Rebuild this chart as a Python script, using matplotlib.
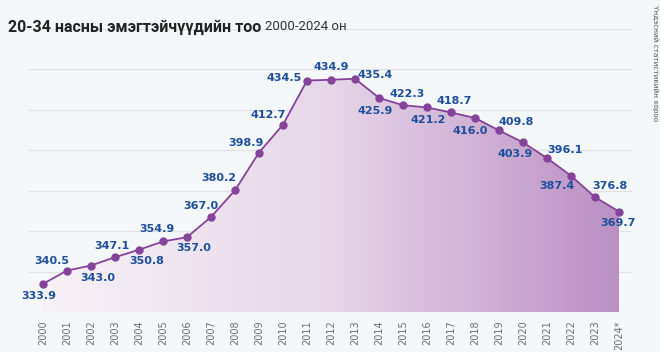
import numpy as np
import matplotlib
matplotlib.use("Agg")
import matplotlib.pyplot as plt
from matplotlib.colors import LinearSegmentedColormap

# data
years = list(range(2000, 2025))
year_labels = [str(y) for y in years[:-1]] + ["2024*"]
values = [333.9, 340.5, 343.0, 347.1, 350.8, 354.9, 357.0, 367.0, 380.2, 398.9,
          412.7, 434.5, 434.9, 435.4, 425.9, 422.3, 421.2, 418.7, 416.0, 409.8,
          403.9, 396.1, 387.4, 376.8, 369.7]

# label offsets in pixels (dx, dy), dy positive = up
offsets = [(-4, -12), (-15, 10), (7, -12), (-3, 11), (8, -11), (-6, 12), (7, -11),
           (-10, 11), (-16, 12), (-13, 10), (-15, 10), (-23, 3), (0, 13), (20, 4),
           (-4, -13), (4, 11), (1, -13), (3, 11), (-5, -13), (17, 8), (-8, -12),
           (18, 8), (-14, -10), (15, 11), (-1, -11)]

BG = "#f5f8fa"
LINE = "#85439a"
LABEL = "#1d4f9c"

plt.rcParams["font.family"] = ["DejaVu Sans"]

fig = plt.figure(figsize=(6.6, 3.52), dpi=100, facecolor=BG)
ax = fig.add_axes([28 / 660, 1 - 312 / 352, 604 / 660, 283 / 352])
ax.set_facecolor(BG)

ax.set_xlim(1999.375, 2024.54)
ax.set_ylim(320, 460)

for v in range(320, 461, 20):
    ax.axhline(v, color="#e2e2e6", lw=1.0, zorder=0)

# gradient fill under the line
poly = ax.fill_between(years, values, 320, color="none", lw=0)
cmap = LinearSegmentedColormap.from_list("g", ["#f7f2f7", "#e6d6e8", "#bb8fc4"])
grad = np.linspace(0, 1, 256).reshape(1, -1)
im = ax.imshow(grad, cmap=cmap, aspect="auto",
               extent=[years[0], years[-1], 320, 460], zorder=1)
im.set_clip_path(poly.get_paths()[0], transform=ax.transData)

ax.plot(years, values, color=LINE, lw=1.3, marker="o", markersize=5,
        zorder=3)

for x, v, (dx, dy) in zip(years, values, offsets):
    ax.annotate(f"{v:.1f}", (x, v), xytext=(dx * 0.72, dy * 0.72),
                textcoords="offset points", ha="center", va="center",
                color=LABEL, fontsize=8, fontweight="bold", zorder=4)

for s in ax.spines.values():
    s.set_visible(False)
ax.set_yticks([])
ax.set_xticks(years)
ax.set_xticklabels(year_labels, rotation=90, fontsize=7, color="#6e6e6e")
ax.tick_params(axis="x", length=0, pad=6)

title = fig.text(8 / 660, 1 - 27 / 352, "20-34 насны эмэгтэйчүүдийн тоо",
                 fontsize=11.5, fontweight="bold", color="#222222", va="center",
                 family=["Roboto", "DejaVu Sans"])
fig.canvas.draw()
bb = title.get_window_extent()
fig.text((bb.x1 + 4) / 660, 1 - 27 / 352, "2000-2024 он", fontsize=9.5,
         color="#333333", va="center", family=["Roboto", "DejaVu Sans"],
         fontstretch="condensed")
fig.text(655 / 660, 1 - 5 / 352, "Үндэсний статистикийн хороо",
         rotation=270, fontsize=5.2, color="#555555", ha="center", va="top")

fig.savefig("out.png", dpi=100, facecolor=BG)
